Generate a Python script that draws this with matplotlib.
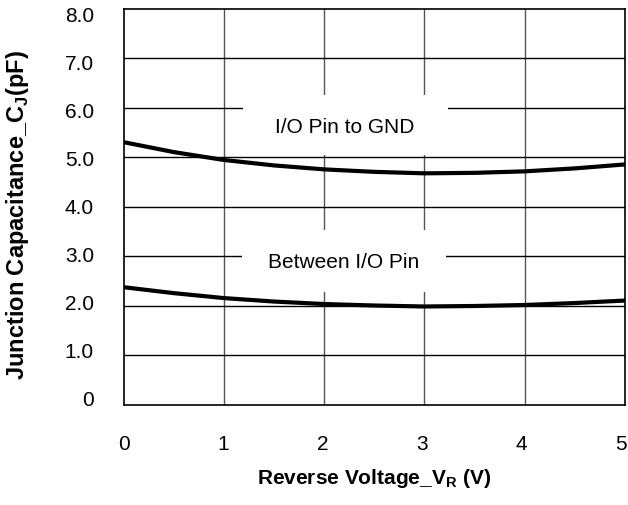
import matplotlib
matplotlib.use("Agg")
import matplotlib.pyplot as plt
from matplotlib.patches import Rectangle
from matplotlib.transforms import blended_transform_factory, offset_copy

plt.rcParams['font.family'] = ['Liberation Sans', 'DejaVu Sans']
plt.rcParams['mathtext.fontset'] = 'custom'
plt.rcParams['mathtext.rm'] = 'Liberation Sans'
plt.rcParams['mathtext.bf'] = 'Liberation Sans:bold'

# Data
voltage = [0, 0.5, 1, 1.5, 2, 2.5, 3, 3.5, 4, 4.5, 5]
cap_io_gnd = [5.30, 5.10, 4.94, 4.83, 4.75, 4.70, 4.67, 4.68, 4.71, 4.77, 4.85]
cap_between = [2.37, 2.25, 2.15, 2.08, 2.03, 2.00, 1.98, 1.99, 2.01, 2.05, 2.10]
x_ticks = [0, 1, 2, 3, 4, 5]
x_tick_labels = ['0', '1', '2', '3', '4', '5']
y_ticks = [0, 1, 2, 3, 4, 5, 6, 7, 8]
y_tick_labels = ['0', '1.0', '2.0', '3.0', '4.0', '5.0', '6.0', '7.0', '8.0']
label_gnd = 'I/O Pin to GND'
label_between = 'Between I/O Pin'

DPI = 100
fig = plt.figure(figsize=(6.28, 5.05), dpi=DPI)
ax = fig.add_axes([123.5/628, 1-404.5/505, (625-123.5)/628, (404.5-8.5)/505])

ax.set_xlim(0, 5)
ax.set_ylim(0, 8)
ax.set_xticks(x_ticks)
ax.set_yticks(y_ticks)
ax.set_xticklabels([])
ax.set_yticklabels([])
ax.tick_params(length=0)

# tick labels (slightly tighter spacing than the grid, as in the original)
tx = blended_transform_factory(ax.transData, ax.transAxes)
for i, (v, lab) in enumerate(zip(x_ticks, x_tick_labels)):
    tr = offset_copy(tx, fig=fig, x=-0.9*i*72/DPI, y=0, units='points')
    ax.text(v, -0.102, lab, transform=tr, ha='center', va='center', fontsize=15, clip_on=False)
ty = blended_transform_factory(ax.transAxes, ax.transData)
for v, lab in zip(y_ticks, y_tick_labels):
    tr = offset_copy(ty, fig=fig, x=0, y=-1.5*(v-3)*72/DPI, units='points')
    ax.text(-0.059, v, lab, transform=tr, ha='right', va='center', fontsize=15, clip_on=False)

for v in x_ticks[1:-1]:
    ax.axvline(v, color='#555555', lw=1.0, zorder=1)
for v in y_ticks[1:-1]:
    ax.axhline(v, color='black', lw=1.0, zorder=1)

# white label boxes
ax.add_patch(Rectangle((1.19, 5.04), 2.045, 1.21, facecolor='white', edgecolor='none', zorder=2))
ax.add_patch(Rectangle((1.18, 2.27), 2.035, 1.255, facecolor='white', edgecolor='none', zorder=2))

ax.text(2.21, 5.60, label_gnd, ha='center', va='center', fontsize=15, zorder=3)
ax.text(2.19, 2.86, label_between, ha='center', va='center', fontsize=15, zorder=3)

ax.plot(voltage, cap_io_gnd, color='black', lw=3.0, zorder=4, solid_capstyle='butt')
ax.plot(voltage, cap_between, color='black', lw=3.0, zorder=4, solid_capstyle='butt')

for s in ax.spines.values():
    s.set_color('black')
    s.set_linewidth(1.2)

fig.text(18/628, 1-215/505, r'Junction Capacitance_C$_\mathbf{J}$(pF)', rotation=90,
         ha='center', va='center', fontsize=17, fontweight='bold')
fig.text(374.5/628, 1-478/505, r'Reverse Voltage_V$_\mathbf{R}$ (V)',
         ha='center', va='center', fontsize=15, fontweight='bold')

fig.savefig('out.png', dpi=DPI)
